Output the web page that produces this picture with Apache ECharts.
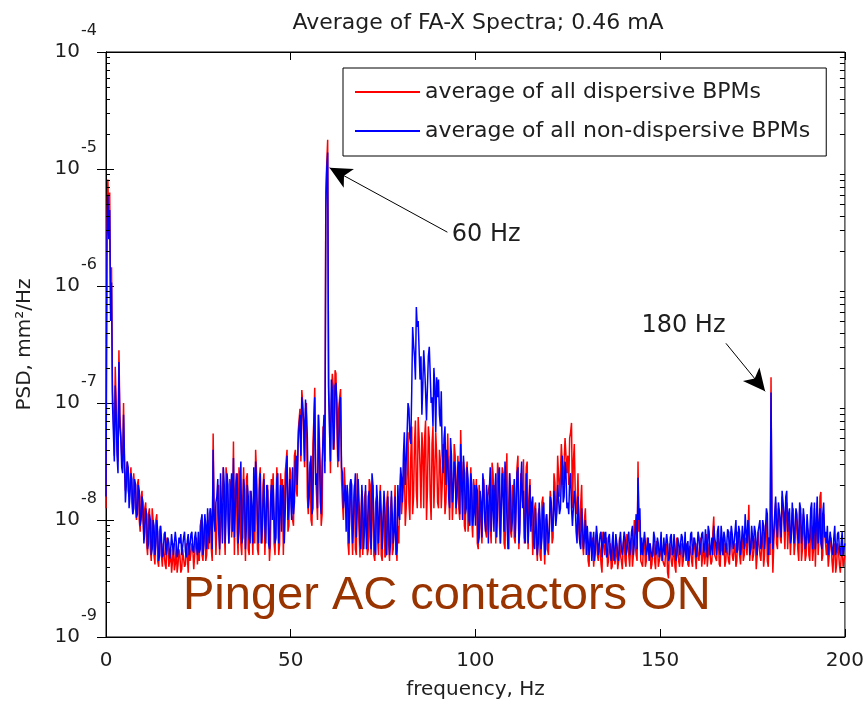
<!DOCTYPE html>
<html>
<head>
<meta charset="utf-8">
<script src="https://cdn.jsdelivr.net/npm/echarts@6/dist/echarts.min.js"></script>
<style>
  html, body { margin: 0; padding: 0; background: #fff; }
  #chart { width: 867px; height: 711px; }
</style>
</head>
<body>
<div id="chart"></div>
<script>
// Spectral bins: the main grid is 0, 0.5, ..., 200 Hz; the "quarter" arrays hold
// the bins in between (0.25, 0.75, ..., 199.75 Hz).
const FREQ_STEP = 0.5;

// log10 of PSD (mm^2/Hz), dispersive BPMs, bins at 0, 0.5, ... 200 Hz
const dispersiveLog = [
  -7.9, -5.09, -5.2, -5.84, -7.1, -6.69, -7.4, -6.55, -7.25, -7.5,      // 0 Hz
  -7.55, -7.6, -7.75, -7.65, -7.85, -7.6, -7.9, -7.7, -8.0, -7.8,
  -8.0, -7.9, -8.2, -7.95, -8.25, -7.9, -8.3, -8.0, -8.35, -8.1,        // 10 Hz
  -8.3, -8.2, -8.38, -8.15, -8.4, -8.25, -8.35, -8.43, -8.2, -8.38,
  -8.3, -8.42, -8.25, -8.38, -8.3, -8.2, -8.35, -8.25, -8.3, -8.15,     // 20 Hz
  -8.25, -8.05, -8.3, -8.1, -8.35, -8.0, -7.95, -8.25, -7.26, -8.0,
  -8.05, -7.7, -8.3, -7.8, -8.05, -7.55, -8.0, -7.65, -8.15, -7.33,     // 30 Hz
  -7.75, -8.1, -7.55, -8.2, -7.85, -7.95, -7.65, -8.25, -7.75, -8.05,
  -7.85, -7.4, -8.25, -7.65, -8.05, -7.7, -8.3, -7.8, -8.0, -8.2,       // 40 Hz
  -7.75, -8.2, -7.85, -7.55, -8.2, -7.8, -8.3, -7.6, -7.4, -8.05,
  -7.6, -7.95, -7.45, -7.75, -7.25, -7.05, -6.89, -7.3, -7.05, -7.8,    // 50 Hz
  -7.6, -8.0, -7.35, -6.87, -7.8, -7.1, -7.55, -7.95, -7.25, -5.2,
  -4.75, -7.1, -7.0, -6.85, -6.72, -7.2, -7.05, -6.88, -7.85, -7.55,    // 60 Hz
  -7.9, -8.2, -7.7, -8.05, -7.85, -8.25, -7.6, -8.1, -7.95, -8.3,
  -7.8, -8.1, -8.25, -7.7, -7.95, -8.3, -7.85, -8.15, -7.9, -8.3,       // 70 Hz
  -8.0, -8.32, -7.85, -8.2, -7.9, -8.3, -7.95, -8.2, -8.05, -7.75,
  -7.95, -7.7, -8.05, -7.6, -7.85, -7.45, -7.95, -7.35, -7.75, -7.12,   // 80 Hz
  -7.55, -7.25, -7.9, -7.15, -7.75, -7.3, -8.0, -7.2, -7.6, -7.45,
  -7.9, -7.5, -7.7, -7.45, -7.85, -7.26, -8.0, -7.6, -7.8, -7.45,       // 90 Hz
  -7.7, -7.9, -7.23, -7.75, -8.05, -7.6, -8.1, -7.8, -8.0, -7.65,
  -7.9, -8.2, -7.7, -8.05, -7.8, -7.95, -8.15, -7.75, -8.05, -7.51,     // 100 Hz
  -7.85, -8.2, -7.51, -8.05, -7.8, -7.6, -8.25, -7.43, -7.9, -8.1,
  -7.7, -8.15, -7.8, -7.45, -8.0, -7.6, -7.48, -8.1, -7.5, -7.85,       // 110 Hz
  -8.05, -8.3, -7.9, -8.2, -7.95, -8.3, -7.85, -8.15, -8.0, -8.25,
  -8.05, -7.85, -8.15, -7.68, -7.9, -7.45, -7.6, -7.35, -7.5, -7.3,     // 120 Hz
  -7.45, -7.3, -7.17, -7.5, -7.75, -7.9, -8.1, -7.85, -8.2, -8.0,
  -8.2, -8.35, -8.1, -8.25, -8.4, -8.15, -8.3, -8.2, -8.38, -8.1,       // 130 Hz
  -8.3, -8.15, -8.35, -8.2, -8.4, -8.25, -8.3, -8.42, -8.15, -8.35,
  -8.2, -8.35, -8.12, -8.3, -8.2, -8.4, -8.0, -8.3, -7.5, -8.0,         // 140 Hz
  -8.35, -8.2, -8.4, -8.15, -8.3, -8.42, -8.25, -8.35, -8.18, -8.4,
  -8.3, -8.2, -8.38, -8.25, -8.45, -8.2, -8.35, -8.3, -8.4, -8.15,      // 150 Hz
  -8.35, -8.25, -8.4, -8.2, -8.3, -8.38, -8.22, -8.35, -8.15, -8.3,
  -8.2, -8.35, -8.15, -8.3, -8.38, -8.12, -8.3, -8.2, -8.35, -7.97,     // 160 Hz
  -8.3, -8.2, -8.38, -8.15, -8.3, -8.4, -8.2, -8.35, -8.1, -8.3,
  -8.25, -8.4, -8.1, -8.3, -8.2, -8.35, -8.15, -8.3, -7.87, -8.2,       // 170 Hz
  -8.35, -8.2, -8.42, -8.1, -8.3, -8.2, -8.4, -8.05, -8.35, -8.15,
  -6.78, -8.45, -8.0, -8.2, -7.9, -8.15, -7.8, -8.05, -7.92, -8.25,     // 180 Hz
  -8.0, -8.3, -7.9, -8.2, -8.05, -8.35, -7.95, -8.25, -8.1, -8.3,
  -8.1, -8.35, -7.95, -8.25, -8.4, -7.85, -8.15, -7.76, -8.3, -8.1,     // 190 Hz
  -8.3, -8.4, -8.2, -8.35, -8.25, -8.45, -8.2, -8.38, -8.3, -8.4,
  -8.3                                                                   // 200 Hz
];

// log10 of PSD, dispersive BPMs, bins at 0.25, 0.75, ... 199.75 Hz
const dispersiveLogQuarter = [
  -5.5, -5.45, -6.2, -6.9, -7.45, -7.0, -7.5, -7.1, -7.45, -7.0,        // 0 Hz
  -7.75, -7.5, -7.8, -7.55, -7.95, -7.6, -8.0, -7.65, -8.1, -7.75,
  -8.15, -7.85, -8.3, -7.9, -8.35, -8.0, -8.38, -7.95, -8.4, -8.05,     // 10 Hz
  -8.4, -8.2, -8.42, -8.22, -8.35, -8.45, -8.2, -8.38, -8.45, -8.25,
  -8.45, -8.25, -8.4, -8.2, -8.45, -8.35, -8.2, -8.42, -8.2, -8.38,     // 20 Hz
  -8.35, -8.0, -8.35, -8.0, -8.3, -8.25, -7.9, -8.35, -7.9, -8.3,
  -7.8, -8.3, -7.85, -7.55, -8.3, -7.65, -8.2, -7.7, -8.0, -8.3,        // 30 Hz
  -7.6, -8.3, -7.7, -8.3, -7.55, -8.35, -7.6, -8.3, -7.8, -8.3,
  -8.2, -7.6, -8.3, -7.55, -8.2, -7.6, -8.3, -7.7, -8.35, -7.65,        // 40 Hz
  -7.6, -8.3, -7.55, -8.3, -7.6, -7.65, -8.3, -7.5, -8.1, -7.55,
  -7.95, -8.05, -7.4, -7.8, -7.15, -7.5, -7.0, -7.55, -7.0, -7.95,      // 50 Hz
  -7.5, -8.05, -7.15, -7.6, -8.0, -7.3, -8.05, -7.2, -7.5, -4.95,
  -6.85, -7.6, -6.75, -7.4, -6.75, -7.55, -6.95, -7.65, -8.0, -7.75,    // 60 Hz
  -7.75, -8.3, -7.65, -8.3, -7.7, -8.3, -7.6, -8.32, -7.75, -8.3,
  -7.75, -8.3, -7.65, -8.3, -7.7, -8.35, -7.8, -8.3, -7.7, -8.35,       // 70 Hz
  -7.8, -8.3, -7.75, -8.35, -7.8, -8.25, -7.7, -8.35, -8.2, -7.6,
  -7.8, -7.5, -7.9, -7.25, -8.0, -7.2, -7.8, -7.15, -7.9, -7.3,         // 80 Hz
  -7.9, -7.4, -7.3, -8.0, -7.2, -7.8, -7.35, -7.9, -7.25, -7.85,
  -7.4, -7.9, -7.35, -7.95, -7.55, -7.7, -7.45, -8.0, -7.35, -7.95,     // 90 Hz
  -7.45, -8.0, -7.6, -7.5, -8.1, -7.5, -8.1, -7.55, -8.15, -7.75,
  -7.65, -8.25, -7.7, -8.2, -7.65, -8.1, -7.8, -7.7, -8.2, -7.6,        // 100 Hz
  -7.7, -8.2, -7.6, -8.2, -7.55, -8.2, -7.75, -8.25, -7.6, -8.15,
  -7.75, -8.2, -7.55, -8.25, -7.6, -7.85, -8.2, -7.55, -8.25, -7.65,    // 110 Hz
  -7.9, -8.3, -7.85, -8.35, -7.9, -8.35, -7.8, -8.38, -7.95, -8.3,
  -7.75, -8.2, -7.6, -8.0, -7.45, -7.8, -7.35, -7.7, -7.3, -7.6,        // 120 Hz
  -7.7, -7.25, -7.9, -7.35, -7.95, -7.6, -8.2, -7.7, -8.3, -7.9,
  -8.1, -8.4, -8.2, -8.15, -8.4, -8.1, -8.35, -8.25, -8.45, -8.2,       // 130 Hz
  -8.2, -8.4, -8.25, -8.42, -8.2, -8.38, -8.2, -8.35, -8.3, -8.42,
  -8.15, -8.4, -8.2, -8.4, -8.15, -8.3, -8.2, -8.35, -8.1, -8.35,       // 140 Hz
  -8.4, -8.15, -8.35, -8.25, -8.2, -8.38, -8.2, -8.42, -8.2, -8.35,
  -8.2, -8.35, -8.4, -8.2, -8.5, -8.25, -8.4, -8.2, -8.45, -8.25,       // 150 Hz
  -8.4, -8.2, -8.35, -8.25, -8.2, -8.4, -8.25, -8.4, -8.2, -8.42,
  -8.3, -8.2, -8.4, -8.2, -8.3, -8.4, -8.2, -8.38, -8.1, -8.3,          // 160 Hz
  -8.35, -8.15, -8.4, -8.25, -8.2, -8.35, -8.2, -8.38, -8.15, -8.35,
  -8.2, -8.35, -8.15, -8.38, -8.15, -8.3, -8.2, -8.1, -8.35, -8.15,     // 170 Hz
  -8.3, -8.15, -8.3, -8.2, -8.35, -8.1, -8.3, -8.0, -8.4, -8.3,
  -8.1, -8.2, -7.85, -8.25, -7.95, -8.2, -7.9, -8.25, -7.85, -8.05,     // 180 Hz
  -8.3, -7.95, -8.3, -7.95, -8.25, -7.9, -8.35, -7.95, -8.35, -8.05,
  -8.3, -7.95, -8.35, -7.9, -8.1, -8.3, -7.8, -8.35, -7.95, -8.2,       // 190 Hz
  -8.2, -8.4, -8.15, -8.45, -8.2, -8.38, -8.25, -8.45, -8.2, -8.35
];

// log10 of PSD (mm^2/Hz), non-dispersive BPMs, bins at 0, 0.5, ... 200 Hz
const nonDispersiveLog = [
  -7.8, -5.22, -5.35, -5.97, -7.25, -6.85, -7.45, -6.65, -7.3, -7.6,    // 0 Hz
  -7.45, -7.7, -7.55, -7.78, -7.65, -7.9, -7.7, -7.95, -7.75, -8.0,
  -7.85, -8.1, -7.95, -8.2, -8.0, -8.25, -8.05, -8.2, -8.1, -8.3,       // 10 Hz
  -8.15, -8.28, -8.1, -8.3, -8.2, -8.25, -8.12, -8.3, -8.18, -8.28,
  -8.2, -8.3, -8.15, -8.27, -8.18, -8.3, -8.12, -8.26, -8.15, -8.22,    // 20 Hz
  -8.1, -8.25, -7.95, -8.2, -8.05, -7.9, -8.2, -8.0, -7.4, -8.1,
  -7.8, -8.1, -7.6, -8.2, -7.7, -7.95, -7.7, -8.0, -7.6, -7.47,         // 30 Hz
  -7.9, -7.6, -8.1, -7.5, -8.15, -7.75, -8.05, -7.8, -8.2, -7.9,
  -7.55, -7.5, -8.0, -7.75, -8.2, -7.85, -8.05, -7.7, -8.2, -7.85,      // 40 Hz
  -8.0, -7.7, -8.15, -7.6, -7.95, -8.1, -7.7, -7.95, -7.45, -7.9,
  -7.8, -7.55, -7.85, -7.45, -7.35, -7.1, -6.95, -7.15, -6.97, -7.3,    // 50 Hz
  -7.8, -7.45, -7.9, -6.95, -7.6, -7.1, -7.85, -7.5, -7.1, -5.35,
  -4.86, -7.25, -6.8, -7.4, -6.85, -7.0, -7.5, -6.95, -7.6, -7.9,       // 60 Hz
  -8.1, -7.8, -8.2, -7.7, -8.0, -7.6, -8.15, -7.85, -8.25, -7.9,
  -8.05, -8.25, -7.8, -8.15, -7.6, -8.0, -8.3, -7.85, -8.2, -7.95,      // 70 Hz
  -8.25, -7.9, -8.3, -8.0, -8.2, -7.75, -8.1, -8.3, -7.7, -8.0,
  -7.65, -7.45, -7.7, -7.25, -7.05, -7.35, -6.35, -6.6, -6.18, -6.3,    // 80 Hz
  -6.8, -7.1, -6.55, -6.9, -7.15, -6.52, -7.0, -7.2, -6.85, -6.78,
  -6.8, -7.2, -7.45, -7.3, -7.7, -7.5, -7.9, -7.45, -7.75, -7.55,       // 90 Hz
  -7.8, -7.5, -7.35, -8.0, -7.6, -7.9, -7.65, -8.05, -7.7, -7.95,
  -8.05, -7.75, -8.15, -7.85, -7.6, -8.0, -7.7, -8.2, -7.55, -7.9,      // 100 Hz
  -8.1, -7.6, -7.9, -7.55, -8.2, -7.8, -7.5, -7.95, -8.25, -7.75,
  -8.0, -7.65, -7.9, -7.55, -8.1, -7.5, -7.75, -8.2, -7.6, -7.95,       // 110 Hz
  -8.1, -7.8, -8.25, -7.9, -8.2, -8.0, -8.15, -7.85, -8.25, -7.95,
  -8.1, -7.85, -8.05, -7.75, -7.95, -7.7, -7.9, -7.45, -7.8, -7.6,      // 120 Hz
  -7.85, -7.65, -7.9, -8.05, -7.85, -8.2, -8.0, -8.25, -7.9, -8.15,
  -8.3, -8.05, -8.2, -8.35, -8.1, -8.25, -8.15, -8.3, -8.1, -8.2,       // 130 Hz
  -8.2, -8.32, -8.15, -8.28, -8.2, -8.35, -8.12, -8.3, -8.18, -8.25,
  -8.3, -8.15, -8.25, -8.1, -8.3, -8.05, -8.2, -7.95, -7.64, -7.9,      // 140 Hz
  -8.15, -8.3, -8.1, -8.25, -8.35, -8.2, -8.3, -8.15, -8.28, -8.2,
  -8.25, -8.35, -8.15, -8.3, -8.2, -8.32, -8.12, -8.28, -8.22, -8.3,    // 150 Hz
  -8.2, -8.3, -8.15, -8.25, -8.35, -8.18, -8.28, -8.1, -8.3, -8.2,
  -8.25, -8.15, -8.3, -8.1, -8.25, -8.2, -8.05, -8.3, -8.15, -8.05,     // 160 Hz
  -8.2, -8.1, -8.25, -8.05, -8.3, -8.15, -8.22, -8.1, -8.3, -8.12,
  -8.2, -8.0, -8.25, -8.1, -8.2, -8.05, -7.95, -8.2, -8.1, -8.25,       // 170 Hz
  -8.15, -8.05, -8.2, -8.1, -8.0, -8.2, -8.05, -8.1, -7.95, -8.15,
  -6.91, -8.25, -7.95, -8.05, -7.85, -8.0, -7.75, -7.95, -7.8, -8.1,    // 180 Hz
  -7.9, -8.15, -7.85, -8.05, -7.95, -8.2, -7.9, -8.1, -8.0, -8.2,
  -7.95, -8.15, -7.85, -8.1, -8.25, -7.8, -8.05, -8.2, -7.95, -8.15,    // 190 Hz
  -8.2, -8.3, -8.1, -8.25, -8.15, -8.3, -8.12, -8.25, -8.2, -8.3,
  -8.2                                                                   // 200 Hz
];

// log10 of PSD, non-dispersive BPMs, bins at 0.25, 0.75, ... 199.75 Hz
const nonDispersiveLogQuarter = [
  -5.6, -5.6, -6.3, -7.0, -7.5, -7.1, -7.6, -7.2, -7.55, -7.1,          // 0 Hz
  -7.85, -7.5, -7.9, -7.6, -7.95, -7.65, -7.98, -7.7, -8.05, -7.8,
  -8.2, -7.9, -8.25, -7.95, -8.3, -8.0, -8.3, -8.0, -8.35, -8.05,       // 10 Hz
  -8.32, -8.12, -8.3, -8.15, -8.33, -8.12, -8.3, -8.1, -8.32, -8.15,
  -8.12, -8.3, -8.1, -8.32, -8.12, -8.3, -8.1, -8.28, -8.1, -8.3,       // 20 Hz
  -8.28, -8.0, -8.3, -7.95, -8.25, -8.1, -7.9, -8.25, -8.0, -7.85,
  -7.65, -8.25, -7.9, -7.55, -8.2, -7.6, -8.2, -7.75, -8.1, -8.15,      // 30 Hz
  -7.7, -8.2, -7.75, -8.2, -7.65, -8.25, -7.7, -8.15, -7.75, -8.2,
  -8.1, -7.7, -8.2, -7.6, -8.1, -7.65, -8.2, -7.75, -8.25, -7.7,        // 40 Hz
  -7.7, -8.2, -7.65, -8.2, -7.7, -7.75, -8.2, -7.6, -8.0, -7.65,
  -8.0, -7.95, -7.5, -7.7, -7.2, -7.45, -7.05, -7.5, -7.1, -7.9,        // 50 Hz
  -7.55, -7.95, -7.2, -7.7, -7.9, -7.4, -7.95, -7.3, -7.6, -5.0,
  -6.9, -7.5, -6.9, -7.3, -6.83, -7.45, -7.0, -7.55, -7.9, -7.7,        // 60 Hz
  -7.7, -8.2, -7.65, -8.2, -7.75, -8.15, -7.65, -8.2, -7.7, -8.25,
  -7.7, -8.1, -7.75, -8.25, -7.7, -8.25, -7.7, -8.2, -7.75, -8.25,      // 70 Hz
  -7.75, -8.25, -7.8, -8.3, -7.75, -8.2, -7.8, -8.25, -7.95, -7.55,
  -7.85, -7.25, -7.5, -7.0, -7.3, -6.9, -6.5, -6.8, -6.35, -6.55,       // 80 Hz
  -6.6, -6.85, -6.7, -7.15, -6.6, -6.75, -6.95, -6.7, -7.25, -6.95,
  -7.1, -6.9, -7.6, -7.2, -7.4, -7.8, -7.3, -7.85, -7.5, -7.9,          // 90 Hz
  -7.55, -7.95, -7.7, -7.45, -7.95, -7.55, -8.0, -7.6, -8.05, -7.7,
  -7.7, -8.2, -7.75, -8.15, -7.7, -8.1, -7.85, -7.75, -8.1, -7.7,       // 100 Hz
  -7.75, -8.15, -7.65, -8.2, -7.6, -8.1, -7.7, -8.2, -7.6, -8.1,
  -7.8, -8.15, -7.6, -8.2, -7.7, -7.9, -8.15, -7.6, -8.2, -7.7,         // 110 Hz
  -7.85, -8.2, -7.9, -8.3, -7.85, -8.25, -7.9, -8.3, -7.95, -8.2,
  -7.8, -8.1, -7.75, -8.05, -7.7, -7.95, -7.65, -7.85, -7.5, -7.9,      // 120 Hz
  -7.95, -7.6, -8.05, -7.75, -8.1, -7.8, -8.2, -7.9, -8.25, -8.0,
  -8.05, -8.3, -8.1, -8.2, -8.35, -8.05, -8.3, -8.12, -8.32, -8.1,      // 130 Hz
  -8.1, -8.3, -8.12, -8.35, -8.1, -8.3, -8.2, -8.35, -8.1, -8.3,
  -8.1, -8.3, -8.15, -8.3, -8.1, -8.3, -8.1, -8.25, -8.0, -8.3,         // 140 Hz
  -8.3, -8.1, -8.3, -8.15, -8.2, -8.32, -8.1, -8.3, -8.15, -8.32,
  -8.1, -8.28, -8.3, -8.12, -8.35, -8.15, -8.3, -8.12, -8.35, -8.15,    // 150 Hz
  -8.3, -8.12, -8.32, -8.1, -8.22, -8.35, -8.12, -8.3, -8.15, -8.32,
  -8.1, -8.3, -8.12, -8.28, -8.08, -8.32, -8.1, -8.25, -8.3, -8.15,     // 160 Hz
  -8.3, -8.05, -8.3, -8.15, -8.1, -8.28, -8.08, -8.3, -8.05, -8.25,
  -8.1, -8.28, -8.05, -8.3, -8.05, -8.25, -8.1, -8.0, -8.3, -8.05,      // 170 Hz
  -8.25, -8.1, -8.3, -8.05, -8.25, -8.0, -8.25, -7.9, -8.3, -8.2,
  -7.95, -8.1, -7.8, -8.15, -7.85, -8.15, -7.85, -8.1, -7.75, -7.95,    // 180 Hz
  -8.2, -7.85, -8.2, -7.9, -8.15, -7.85, -8.2, -7.9, -8.25, -7.95,
  -8.2, -7.9, -8.25, -7.85, -8.05, -8.2, -7.9, -8.25, -7.85, -8.1,      // 190 Hz
  -8.05, -8.3, -8.1, -8.3, -8.05, -8.25, -8.1, -8.3, -8.1, -8.25
];

const seriesNames = ['average of all dispersive BPMs', 'average of all non-dispersive BPMs'];
const xTickValues = [0, 50, 100, 150, 200];
const yDecadeExponents = [-9, -8, -7, -6, -5, -4];
const minorMultipliers = [2, 3, 4, 5, 6, 7, 8, 9];

// Interleave the grid and in-between bins into [frequency, PSD] pairs
function toPairs(gridLogs, quarterLogs) {
  const out = [];
  gridLogs.forEach((e, i) => {
    out.push([i * FREQ_STEP, Math.pow(10, e)]);
    if (i < quarterLogs.length) {
      out.push([i * FREQ_STEP + FREQ_STEP / 2, Math.pow(10, quarterLogs[i])]);
    }
  });
  return out;
}

const xMin = xTickValues[0];
const xMax = xTickValues[xTickValues.length - 1];
const yMin = Math.pow(10, yDecadeExponents[0]);
const yMax = Math.pow(10, yDecadeExponents[yDecadeExponents.length - 1]);

// Minor log tick values (2..9 within each decade)
const minorTickValues = [];
yDecadeExponents.slice(0, -1).forEach(d => {
  minorMultipliers.forEach(m => minorTickValues.push(m * Math.pow(10, d)));
});

const FONT = 'DejaVu Sans';
const INK = '#1e1e1e';

// Decade axis (log scale) carrying the frame line, major ticks and labels
function decadeAxis(position, withLabels, tickLen) {
  return {
    type: 'log', logBase: 10, min: yMin, max: yMax, position: position,
    axisLine: { show: true, lineStyle: { color: '#000', width: 1 } },
    axisTick: { show: true, inside: true, length: tickLen, lineStyle: { color: '#000', width: 1 } },
    splitLine: { show: false },
    axisLabel: withLabels ? {
      show: true, margin: 9, fontFamily: FONT, color: INK,
      formatter: v => '{e|' + Math.round(Math.log10(v)) + '}\n{b|10}\n{s| }',
      rich: {
        e: { fontFamily: FONT, fontSize: 16, lineHeight: 21, align: 'right', color: INK },
        b: { fontFamily: FONT, fontSize: 20, lineHeight: 21, align: 'right', color: INK, padding: [0, 17, 0, 0] },
        s: { fontFamily: FONT, fontSize: 20, lineHeight: 21 }
      }
    } : { show: false }
  };
}

// Short inward marks on both vertical frame edges at each minor log value
function renderMinorTick(params, api) {
  const v = api.value(1);
  const l = api.coord([xMin, v]);
  const r = api.coord([xMax, v]);
  const y = Math.round(l[1]) + 0.5;
  const style = { stroke: '#000', lineWidth: 1 };
  return {
    type: 'group',
    children: [
      { type: 'line', shape: { x1: l[0], y1: y, x2: l[0] + 4, y2: y }, style: style },
      { type: 'line', shape: { x1: r[0] - 5, y1: y, x2: r[0], y2: y }, style: style }
    ]
  };
}

const chart = echarts.init(document.getElementById('chart'), null, { renderer: 'canvas' });

chart.setOption({
  animation: false,
  backgroundColor: '#fff',
  title: {
    text: 'Average of FA-X Spectra; 0.46 mA',
    left: 473, top: 7, textAlign: 'center',
    textStyle: { fontFamily: FONT, fontSize: 22, fontWeight: 'normal', color: INK }
  },
  grid: { left: 106, right: 19, top: 52, bottom: 74, show: true, borderColor: '#000', borderWidth: 1 },
  legend: {
    orient: 'vertical', left: 343, top: 68,
    padding: [13, 16, 14, 12], itemGap: 17, itemWidth: 65, itemHeight: 2,
    icon: 'rect',
    borderColor: '#000', borderWidth: 1, backgroundColor: '#fff',
    textStyle: { fontFamily: FONT, fontSize: 22, color: INK },
    data: seriesNames
  },
  xAxis: [
    {
      type: 'value', min: xMin, max: xMax,
      interval: xTickValues[1] - xTickValues[0], position: 'bottom',
      name: 'frequency, Hz', nameLocation: 'middle', nameGap: 43,
      nameTextStyle: { fontFamily: FONT, fontSize: 20, color: INK },
      axisLine: { show: true, onZero: false, lineStyle: { color: '#000' } },
      axisTick: { show: true, inside: true, length: 8, lineStyle: { color: '#000' } },
      axisLabel: { fontFamily: FONT, fontSize: 20, color: INK, margin: 14 },
      splitLine: { show: false }
    },
    {
      type: 'value', min: xMin, max: xMax,
      interval: xTickValues[1] - xTickValues[0], position: 'top',
      axisLine: { show: true, onZero: false, lineStyle: { color: '#000' } },
      axisTick: { show: true, inside: true, length: 8, lineStyle: { color: '#000' } },
      axisLabel: { show: false },
      splitLine: { show: false }
    }
  ],
  yAxis: [
    Object.assign(decadeAxis('left', true, 8), {
      name: 'PSD, mm²/Hz', nameLocation: 'middle', nameGap: 71, nameRotate: 90,
      nameTextStyle: { fontFamily: FONT, fontSize: 20, color: INK }
    }),
    decadeAxis('right', false, 9)
  ],
  series: [
    {
      name: seriesNames[0], type: 'line', xAxisIndex: 0, yAxisIndex: 0,
      data: toPairs(dispersiveLog, dispersiveLogQuarter), symbol: 'none', showSymbol: false,
      lineStyle: { color: '#ff0000', width: 1.5 }, itemStyle: { color: '#ff0000' },
      z: 2
    },
    {
      name: seriesNames[1], type: 'line', xAxisIndex: 0, yAxisIndex: 0,
      data: toPairs(nonDispersiveLog, nonDispersiveLogQuarter), symbol: 'none', showSymbol: false,
      lineStyle: { color: '#0000ff', width: 1.5 }, itemStyle: { color: '#0000ff' },
      z: 3,
      markLine: {
        silent: true, symbol: ['none', 'arrow'], symbolSize: [16, 22],
        lineStyle: { color: '#000', width: 1, type: 'solid' },
        label: { show: false },
        data: [
          [{ coord: [92.4, Math.pow(10, -5.54)] }, { coord: [60.5, Math.pow(10, -4.99)] }],
          [{ coord: [167.8, Math.pow(10, -6.49)] }, { coord: [178.4, Math.pow(10, -6.9)] }]
        ]
      },
      markPoint: {
        silent: true, symbol: 'circle', symbolSize: 0,
        label: { show: true, position: 'inside', fontFamily: FONT, fontSize: 24, color: INK },
        data: [
          { coord: [102.9, Math.pow(10, -5.56)], label: { formatter: '60 Hz' } },
          { coord: [156.3, Math.pow(10, -6.34)], label: { formatter: '180 Hz' } }
        ]
      }
    },
    {
      type: 'custom', name: 'minor ticks', xAxisIndex: 0, yAxisIndex: 0,
      silent: true, clip: false, z: 10,
      data: minorTickValues.map(v => [xMin, v]),
      encode: { x: 0, y: 1 },
      renderItem: renderMinorTick
    }
  ],
  graphic: [
    {
      type: 'text', left: 183, top: 573, silent: true,
      style: { text: 'Pinger AC contactors ON', fontFamily: 'Liberation Sans', fontSize: 47, fill: '#993300' }
    }
  ]
});
</script>
</body>
</html>
